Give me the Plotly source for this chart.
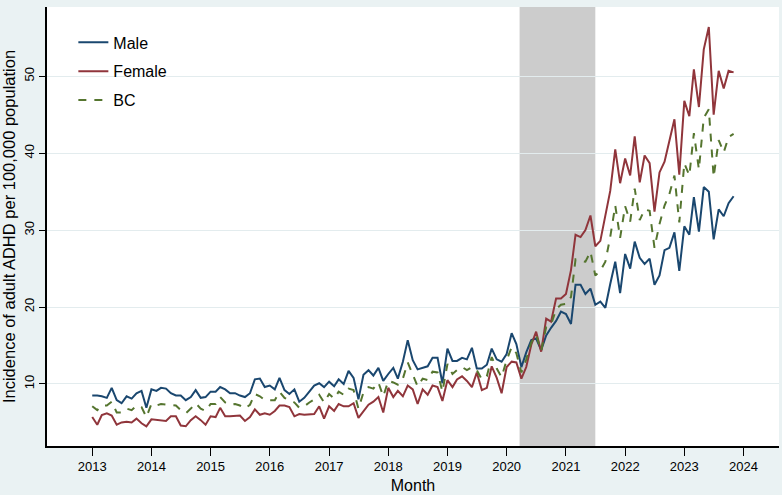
import plotly.graph_objects as go

# Monthly incidence per 100,000 (2013-01 .. 2023-11)
male = [8.5, 8.5, 8.4, 8.2, 9.5, 7.9, 7.5, 8.4, 8.1, 8.8, 9.1, 6.9,
        9.3, 9.1, 9.5, 9.4, 8.8, 8.5, 8.5, 7.9, 8.3, 9.2, 8.2, 8.3,
        9.0, 9.0, 9.6, 9.3, 8.8, 8.8, 8.5, 8.3, 8.8, 10.6, 10.7, 9.6,
        9.8, 9.3, 10.8, 9.2, 8.7, 9.3, 7.7, 8.2, 9.0, 9.8, 10.1, 9.6,
        10.3, 9.7, 10.6, 10.0, 11.7, 10.8, 8.0, 11.2, 11.8, 11.1, 12.1, 10.4,
        11.3, 12.1, 10.7, 12.9, 15.7, 13.1, 11.9, 12.1, 12.3, 13.4, 13.4, 10.1,
        14.6, 13.0, 13.0, 13.4, 13.2, 14.7, 12.0, 12.0, 12.5, 14.6, 13.2, 12.9,
        13.9, 16.6, 15.2, 12.2, 14.1, 15.7, 15.9, 14.4, 16.3, 17.3, 18.2, 19.4,
        19.1, 17.8, 22.9, 22.9, 21.7, 22.4, 20.3, 20.7, 19.9, 23.0, 25.9, 21.8,
        26.9, 25.0, 28.5, 26.4, 25.6, 26.3, 22.9, 24.1, 27.4, 27.7, 29.7, 24.7,
        30.5, 29.4, 34.3, 29.8, 35.6, 35.0, 28.8, 32.7, 31.8, 33.5, 34.4]

female = [5.7, 4.7, 5.95, 6.2, 5.9, 4.7, 5.0, 5.1, 5.0, 5.5, 4.9, 4.5,
          5.4, 5.3, 5.3, 5.2, 5.8, 5.8, 4.6, 4.5, 5.3, 5.8, 5.3, 4.7,
          5.8, 5.7, 6.9, 5.8, 5.8, 5.9, 5.9, 5.2, 5.7, 6.7, 6.0, 6.2,
          6.0, 6.5, 7.2, 7.2, 7.0, 5.8, 6.1, 6.0, 6.1, 6.1, 7.1, 5.5,
          7.1, 6.5, 7.4, 7.1, 7.1, 7.5, 5.6, 6.5, 7.3, 7.7, 8.3, 6.3,
          9.5, 8.3, 9.1, 8.4, 9.8, 9.3, 7.4, 9.3, 8.6, 9.8, 9.6, 7.8,
          10.5, 9.6, 10.6, 11.0, 10.4, 9.6, 11.5, 9.2, 9.5, 12.3, 10.8, 8.8,
          12.2, 12.9, 12.8, 10.7, 12.2, 15.1, 16.8, 14.2, 18.5, 18.1, 21.1, 21.1,
          21.7, 24.8, 29.4, 29.1, 30.0, 31.9, 27.9, 28.6, 31.9, 35.1, 40.5, 36.1,
          39.3, 37.1, 42.2, 36.2, 39.7, 38.7, 32.4, 37.5, 38.9, 41.6, 44.4, 37.2,
          46.8, 44.8, 50.9, 46.0, 53.5, 56.4, 45.0, 50.7, 48.4, 50.7, 50.5]

bc = [7.1, 6.6, 7.2, 7.2, 7.7, 6.3, 6.3, 6.8, 6.6, 7.2, 7.0, 5.7,
      7.4, 7.2, 7.4, 7.3, 7.3, 7.2, 6.6, 6.2, 6.8, 7.5, 6.8, 6.5,
      7.4, 7.4, 8.3, 7.6, 7.3, 7.4, 7.2, 6.8, 7.3, 8.7, 8.4, 7.9,
      7.9, 7.9, 9.0, 8.2, 7.9, 7.6, 6.9, 7.1, 7.6, 8.0, 8.6, 7.6,
      8.7, 8.1, 9.0, 8.6, 9.4, 9.2, 6.8, 8.9, 9.6, 9.4, 10.2, 8.4,
      10.4, 10.2, 9.9, 10.7, 12.8, 11.2, 9.7, 10.7, 10.5, 11.6, 11.5, 9.0,
      12.6, 11.3, 11.8, 12.2, 11.8, 12.2, 11.8, 10.6, 11.0, 13.5, 12.0, 10.9,
      13.1, 14.8, 14.0, 11.5, 13.2, 15.4, 16.4, 14.3, 17.4, 17.7, 19.7, 20.3,
      20.4, 21.3, 26.2, 26.0, 25.9, 27.2, 24.1, 24.7, 25.9, 29.1, 33.2, 29.0,
      33.1, 31.1, 35.4, 31.3, 32.7, 32.5, 27.7, 30.8, 33.2, 34.7, 37.1, 31.0,
      38.7, 37.1, 42.6, 37.9, 44.6, 45.7, 36.9, 41.7, 40.1, 42.1, 42.5]

months = [f"{2013 + k // 12}-{k % 12 + 1:02d}-01" for k in range(len(male))]
year_ticks = [f"{y}-01-01" for y in range(2013, 2025)]
year_labels = [str(y) for y in range(2013, 2025)]
y_ticks = [10, 20, 30, 40, 50]

FONT = "Liberation Sans, Arial, sans-serif"

fig = go.Figure()
fig.add_trace(go.Scatter(x=months, y=male, mode="lines", name="Male",
                         line=dict(color="#1a476f", width=2), legendgroup="a"))
fig.add_trace(go.Scatter(x=months, y=female, mode="lines", name="Female",
                         line=dict(color="#90353b", width=2), legendgroup="b"))
fig.add_trace(go.Scatter(x=months, y=bc, mode="lines", name="BC",
                         line=dict(color="#55752f", width=2, dash="8px,8px"), legendgroup="c"))

fig.add_shape(type="rect", xref="x", yref="paper", x0="2020-03-21", x1="2021-07-01",
              y0=0, y1=1, fillcolor="#cccccc", line=dict(width=0), layer="below")

fig.update_layout(
    width=782, height=495,
    margin=dict(l=47, r=3, t=7, b=47),
    paper_bgcolor="#eaf2f3",
    plot_bgcolor="white",
    font=dict(family=FONT, color="black"),
    showlegend=True,
    legend=dict(x=0.036, y=0.958, xanchor="left", yanchor="top",
                bgcolor="rgba(0,0,0,0)", font=dict(size=16, family=FONT),
                tracegroupgap=5),
    xaxis=dict(type="date", range=["2012-03-28", "2024-08-07"],
               tickvals=year_ticks, ticktext=year_labels,
               ticks="outside", ticklen=8, tickcolor="black", tickwidth=1.3,
               showgrid=False, zeroline=False,
               showline=True, linecolor="black", linewidth=1.5,
               tickfont=dict(size=13, family=FONT),
               title=dict(text="Month", font=dict(size=16, family=FONT), standoff=6)),
    yaxis=dict(range=[1.94, 59.0], tickvals=y_ticks,
               ticks="outside", ticklen=6, tickcolor="black", tickwidth=1.3,
               tickangle=-90,
               showgrid=True, gridcolor="#e3ecee", gridwidth=1.3, zeroline=False,
               showline=True, linecolor="black", linewidth=1.5,
               tickfont=dict(size=13, family=FONT),
               title=dict(text="Incidence of adult ADHD per 100,000 population",
                          font=dict(size=16.5, family=FONT), standoff=4)),
)

fig.write_html("out.html")
